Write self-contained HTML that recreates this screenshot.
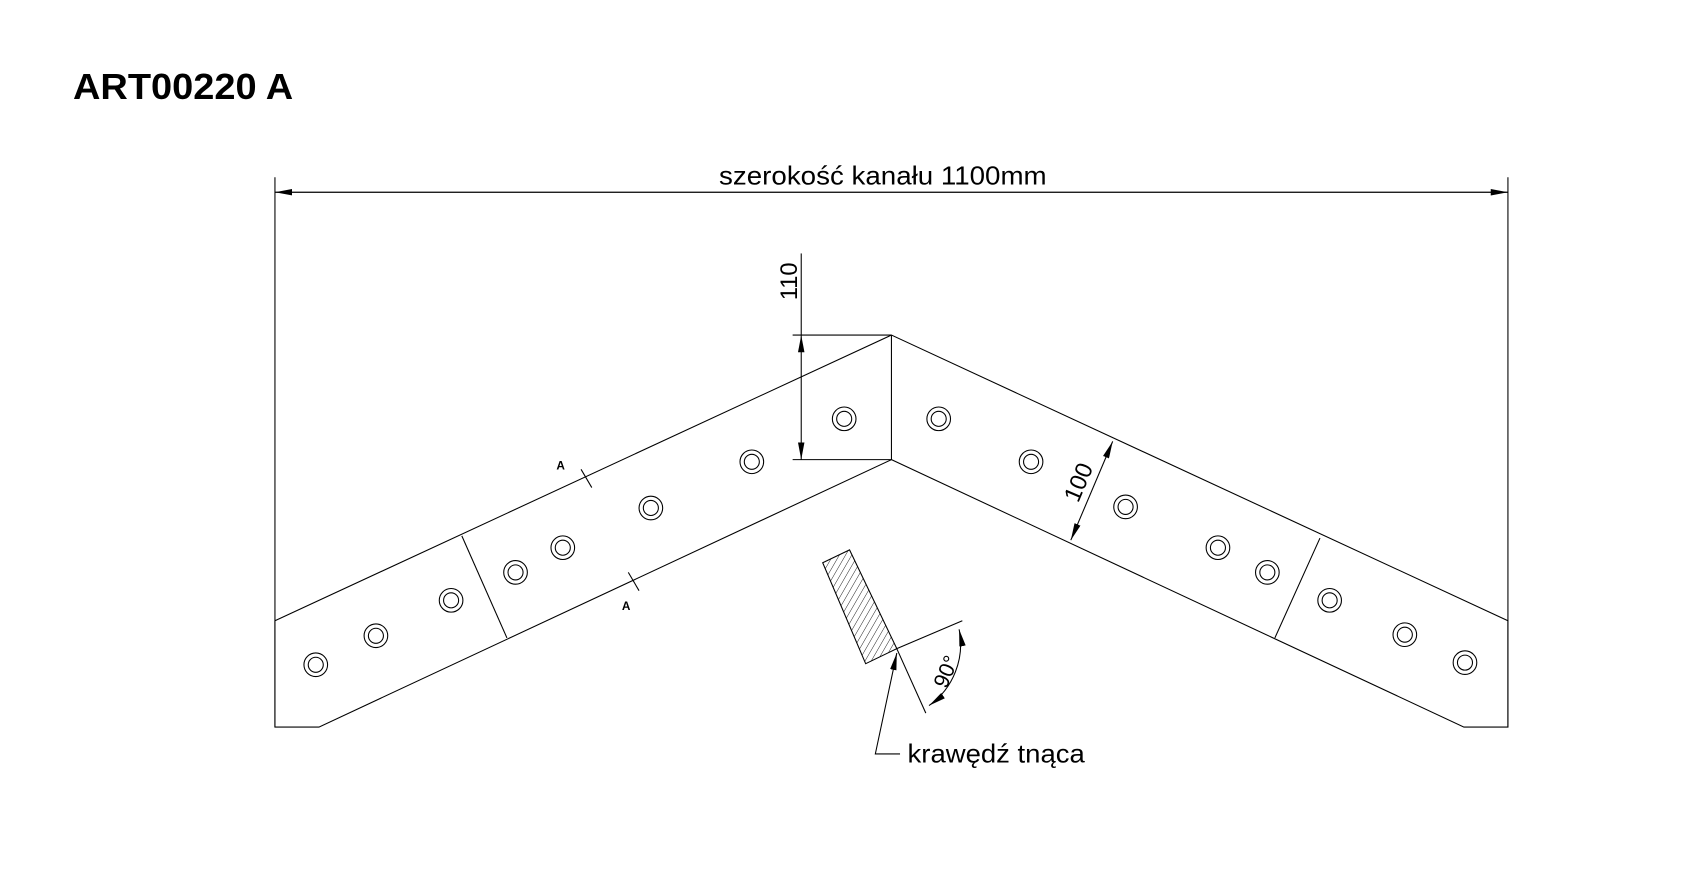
<!DOCTYPE html>
<html><head><meta charset="utf-8"><style>html,body{margin:0;padding:0;background:#fff}svg{display:block}</style></head>
<body>
<svg width="1683" height="886" viewBox="0 0 1567 825" preserveAspectRatio="none" xmlns="http://www.w3.org/2000/svg">
<defs>
<pattern id="h" width="5" height="5" patternUnits="userSpaceOnUse" patternTransform="rotate(30)">
<line x1="0" y1="0" x2="0" y2="5" stroke="#000" stroke-width="0.8"/></pattern>
<marker id="a" viewBox="0 0 16 6" refX="16" refY="3" markerWidth="16" markerHeight="6" markerUnits="userSpaceOnUse" orient="auto-start-reverse"><path d="M0,0 L16,3 L0,6z" fill="#000"/></marker>
</defs>
<text x="68" y="92" font-family="Liberation Sans, sans-serif" font-weight="bold" font-size="34" textLength="205" lengthAdjust="spacingAndGlyphs">ART00220 A</text>
<g stroke="#000" stroke-width="1" fill="none">
<line x1="256" y1="165" x2="256" y2="677"/>
<line x1="1404" y1="165" x2="1404" y2="677"/>
<line x1="256" y1="179" x2="1404" y2="179" marker-start="url(#a)" marker-end="url(#a)" stroke-width="1.2"/>
<polyline points="256,578 830,312 1404,578 1404,677 1363,677 830,428 297,677 256,677 256,578"/>
<line x1="830" y1="312" x2="830" y2="428"/>
<line x1="430" y1="499" x2="472" y2="594"/>
<line x1="1229" y1="501" x2="1187" y2="594"/>
<line x1="738" y1="312" x2="830" y2="312"/>
<line x1="738" y1="428" x2="830" y2="428"/>
<line x1="746" y1="236" x2="746" y2="312"/>
<line x1="746" y1="312" x2="746" y2="428" marker-start="url(#a)" marker-end="url(#a)"/>
<line x1="1036" y1="411" x2="997" y2="503" marker-start="url(#a)" marker-end="url(#a)"/>
<line x1="541" y1="437" x2="551" y2="454"/>
<line x1="585" y1="533" x2="595" y2="550"/>
<polygon points="766,524 791,512 835,604 806,618" fill="url(#h)"/>
<line x1="835" y1="604" x2="896" y2="578"/>
<line x1="835" y1="604" x2="862" y2="664"/>
<path d="M893,586 A70,70 0 0 1 865,657" marker-start="url(#a)" marker-end="url(#a)"/>
<polyline points="838,702 815,702 835,608" marker-end="url(#a)"/>
</g>
<g stroke="#000" stroke-width="1" fill="none">
<circle cx="294" cy="619" r="11"/><circle cx="294" cy="619" r="7"/>
<circle cx="350" cy="592" r="11"/><circle cx="350" cy="592" r="7"/>
<circle cx="420" cy="559" r="11"/><circle cx="420" cy="559" r="7"/>
<circle cx="480" cy="533" r="11"/><circle cx="480" cy="533" r="7"/>
<circle cx="524" cy="510" r="11"/><circle cx="524" cy="510" r="7"/>
<circle cx="606" cy="473" r="11"/><circle cx="606" cy="473" r="7"/>
<circle cx="700" cy="430" r="11"/><circle cx="700" cy="430" r="7"/>
<circle cx="786" cy="390" r="11"/><circle cx="786" cy="390" r="7"/>
<circle cx="874" cy="390" r="11"/><circle cx="874" cy="390" r="7"/>
<circle cx="960" cy="430" r="11"/><circle cx="960" cy="430" r="7"/>
<circle cx="1048" cy="472" r="11"/><circle cx="1048" cy="472" r="7"/>
<circle cx="1134" cy="510" r="11"/><circle cx="1134" cy="510" r="7"/>
<circle cx="1180" cy="533" r="11"/><circle cx="1180" cy="533" r="7"/>
<circle cx="1238" cy="559" r="11"/><circle cx="1238" cy="559" r="7"/>
<circle cx="1308" cy="591" r="11"/><circle cx="1308" cy="591" r="7"/>
<circle cx="1364" cy="617" r="11"/><circle cx="1364" cy="617" r="7"/>
</g>
<g font-family="Liberation Sans, sans-serif" fill="#000">
<text x="822" y="172" font-size="24" text-anchor="middle" textLength="305" lengthAdjust="spacingAndGlyphs">szerokość kanału 1100mm</text>
<text transform="translate(742,262) rotate(-90)" font-size="22" text-anchor="middle">110</text>
<text transform="translate(1011,452) rotate(-67)" font-size="22" text-anchor="middle">100</text>
<text transform="translate(887,628) rotate(-67)" font-size="20" text-anchor="middle">90°</text>
<text x="522" y="437" font-size="11" font-weight="bold" text-anchor="middle">A</text>
<text x="583" y="568" font-size="11" font-weight="bold" text-anchor="middle">A</text>
<text x="845" y="710" font-size="24" textLength="165" lengthAdjust="spacingAndGlyphs">krawędź tnąca</text>
</g>
</svg>
</body></html>
